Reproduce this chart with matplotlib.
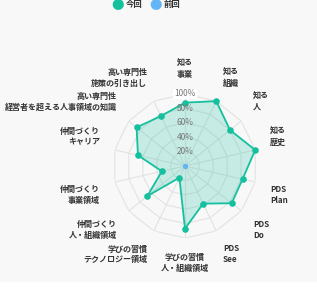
import matplotlib
matplotlib.use("Agg")
import matplotlib.pyplot as plt
from matplotlib.patches import Rectangle
import numpy as np

plt.rcParams['font.family'] = ['Noto Sans CJK JP', 'DejaVu Sans']

labels = ["知る\n事業", "知る\n組織", "知る\n人", "知る\n歴史", "PDS\nPlan", "PDS\nDo",
          "PDS\nSee", "学びの習慣\n人・組織領域", "学びの習慣\nテクノロジー領域",
          "仲間づくり\n人・組織領域", "仲間づくり\n事業領域", "仲間づくり\nキャリア",
          "高い専門性\n経営者を超える人事領域の知識", "高い専門性\n施策の引き出し"]
current = [88, 100, 80, 100, 82, 83, 58, 87, 18, 67, 33, 67, 86, 77]
previous = [0] * 14
ticks = [20, 40, 60, 80, 100]

teal = "#14c09e"
blue = "#64b5f6"
bg = "#f8f8f8"

W, H = 317, 293
fig = plt.figure(figsize=(W / 100, H / 100), dpi=100)
fig.patch.set_facecolor(bg)
fig.patches.append(Rectangle((0, 0), 1, 11 / H, transform=fig.transFigure,
                             facecolor="white", edgecolor="none", zorder=0))

cx, cy, R = 185, 166, 72
ax = fig.add_axes([(cx - R) / W, (H - cy - R) / H, 2 * R / W, 2 * R / H], polar=True)
ax.set_facecolor("none")
ax.set_theta_zero_location("N")
ax.set_theta_direction(-1)
ax.set_ylim(0, 100)
ax.set_xticks([])
ax.set_yticks([])
ax.grid(False)
ax.spines["polar"].set_visible(False)

n = len(labels)
theta = np.arange(n) * 2 * np.pi / n
closed = np.append(theta, theta[0])

# polygon grid
for t in ticks:
    ax.plot(closed, [t] * (n + 1), color="#e2e2e2", lw=0.8, zorder=1)
for th in theta:
    ax.plot([th, th], [0, 100], color="#e2e2e2", lw=0.8, zorder=1)

cur = np.append(current, current[0])
ax.fill(closed, cur, color=teal, alpha=0.22, lw=0, zorder=2)
ax.plot(closed, cur, color=teal, lw=1.3, zorder=3)
ax.scatter(theta, current, s=14, color=teal, zorder=4, clip_on=False)

prev = np.append(previous, previous[0])
ax.plot(closed, prev, color=blue, lw=1.0, zorder=3)
ax.scatter(theta, previous, s=5, color=blue, zorder=4)

for t in ticks:
    box = dict(facecolor="white", edgecolor="none", pad=0.6) if t == 100 else None
    ax.text(0, t, f"{t}%", ha="center", va="center", fontsize=6,
            color="#777777", zorder=5, bbox=box)

for th, lab in zip(theta, labels):
    s, c = np.cos(th), np.sin(th)
    ha = "center" if abs(c) < 0.05 else ("left" if c > 0 else "right")
    va = "bottom" if s > 0.05 else ("top" if s < -0.05 else "center")
    if abs(s) > 0.99:
        va = "bottom" if s > 0 else "top"
    ax.text(th, 121, lab, ha=ha, va=va, multialignment=ha if ha != "center" else "center",
            fontsize=5.8, fontweight="bold", color="#333333", linespacing=1.25,
            clip_on=False)

# legend
fig.text(118 / W, 1 - 5 / H, "●", color=teal, fontsize=9, ha="center", va="center")
fig.text(126 / W, 1 - 5 / H, "今回", color="#333333", fontsize=6, fontweight="bold",
         ha="left", va="center")
fig.text(156 / W, 1 - 5 / H, "●", color=blue, fontsize=9, ha="center", va="center")
fig.text(164 / W, 1 - 5 / H, "前回", color="#333333", fontsize=6, fontweight="bold",
         ha="left", va="center")

fig.savefig("out.png", dpi=100, facecolor=fig.get_facecolor())
